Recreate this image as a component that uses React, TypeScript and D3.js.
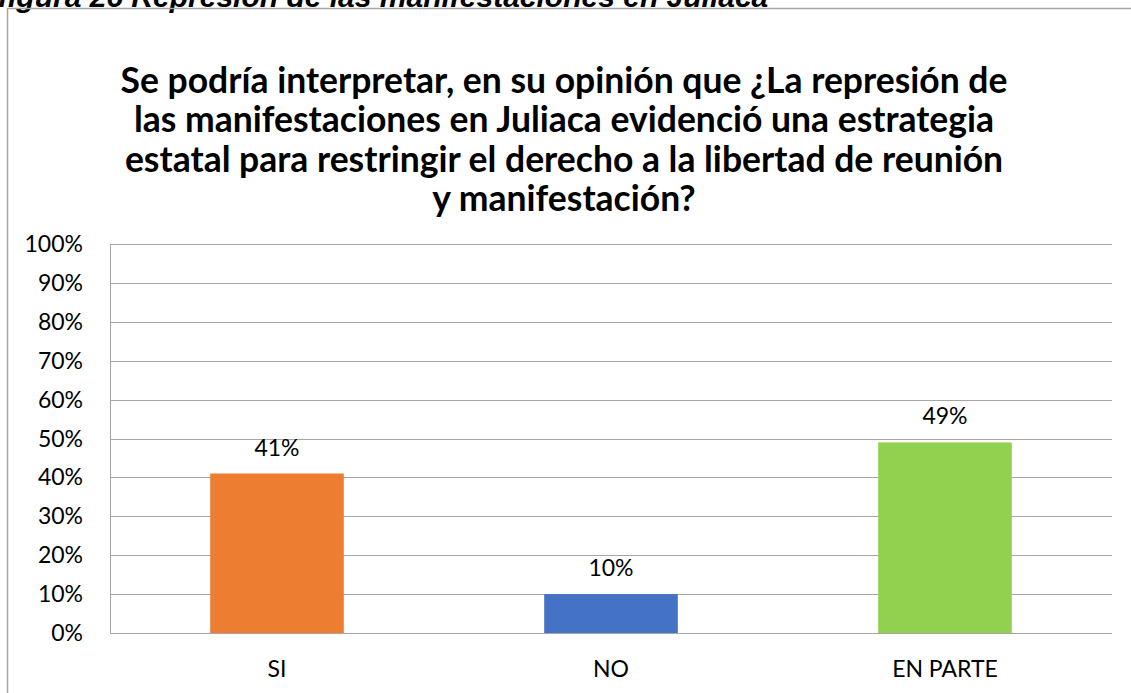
import { useEffect, useRef } from "react";
import * as d3 from "d3";

const categories = ["SI", "NO", "EN PARTE"];
const values = [0.41, 0.1, 0.49];
const barColors = ["#ED7D31", "#4472C4", "#92D050"];
const yTicks = [0, 0.1, 0.2, 0.3, 0.4, 0.5, 0.6, 0.7, 0.8, 0.9, 1];
const titleLines = [
  "Se podría interpretar, en su opinión que ¿La represión de",
  "las manifestaciones en Juliaca evidenció una estrategia",
  "estatal para restringir el derecho a la libertad de reunión",
  "y manifestación?",
];
const caption = "figura 26 Represión de las manifestaciones en Juliaca";

export default function App() {
  const ref = useRef<SVGSVGElement>(null);

  useEffect(() => {
    const el = ref.current;
    if (!el) return;
    const W = 1131, H = 693;
    const M = { top: 244, right: 19, bottom: 60, left: 110 };
    const svg = d3.select(el);
    svg.selectAll("*").remove();

    const font = "Lato, 'Open Sans', sans-serif";

    svg.append("rect").attr("width", W).attr("height", H).attr("fill", "#fff");

    // caption, cut off by the top of the page like in the source
    svg.append("text")
      .attr("x", -2).attr("y", 7)
      .attr("font-family", "'Liberation Sans', Arial, sans-serif")
      .attr("font-size", 30).attr("font-weight", "bold").attr("font-style", "italic")
      .attr("fill", "#000").text(caption);

    // chart frame
    svg.append("path")
      .attr("d", `M7.5,${H} V8.5 H${W}`)
      .attr("fill", "none").attr("stroke", "#a6a6a6").attr("stroke-width", 1.5);

    // title
    svg.append("g").selectAll("text").data(titleLines).join("text")
      .attr("x", 564).attr("y", (_, i) => 93 + i * 39.3)
      .attr("text-anchor", "middle")
      .attr("font-family", font).attr("font-size", 35.5).attr("font-weight", "bold")
      .attr("fill", "#000").text((d) => d);

    const x = d3.scaleBand<string>().domain(categories)
      .range([M.left, W - M.right]).paddingInner(0.6).paddingOuter(0.3);
    const y = d3.scaleLinear().domain([0, 1]).range([H - M.bottom, M.top]);

    // gridlines
    svg.append("g").selectAll("line").data(yTicks).join("line")
      .attr("x1", M.left).attr("x2", W - M.right)
      .attr("y1", (d) => Math.round(y(d)) + 0.5).attr("y2", (d) => Math.round(y(d)) + 0.5)
      .attr("stroke", "#a6a6a6").attr("stroke-width", 1);

    // left axis line
    svg.append("line")
      .attr("x1", M.left + 0.5).attr("x2", M.left + 0.5)
      .attr("y1", y(1)).attr("y2", y(0))
      .attr("stroke", "#a6a6a6").attr("stroke-width", 1);

    const fmt = d3.format(".0%");

    // y tick labels
    svg.append("g").selectAll("text").data(yTicks).join("text")
      .attr("x", 83).attr("y", (d) => y(d) + 8)
      .attr("text-anchor", "end")
      .attr("font-family", font).attr("font-size", 23)
      .attr("fill", "#000").text((d) => fmt(d));

    // bars
    svg.append("g").selectAll("rect").data(values).join("rect")
      .attr("x", (_, i) => x(categories[i]) ?? 0)
      .attr("width", x.bandwidth())
      .attr("y", (d) => y(d))
      .attr("height", (d) => y(0) - y(d))
      .attr("fill", (_, i) => barColors[i]);

    // data labels
    svg.append("g").selectAll("text").data(values).join("text")
      .attr("x", (_, i) => (x(categories[i]) ?? 0) + x.bandwidth() / 2)
      .attr("y", (d) => y(d) - 18)
      .attr("text-anchor", "middle")
      .attr("font-family", font).attr("font-size", 23)
      .attr("fill", "#000").text((d) => fmt(d));

    // category labels
    svg.append("g").selectAll("text").data(categories).join("text")
      .attr("x", (d) => (x(d) ?? 0) + x.bandwidth() / 2)
      .attr("y", H - M.bottom + 44)
      .attr("text-anchor", "middle")
      .attr("font-family", font).attr("font-size", 23)
      .attr("fill", "#000").text((d) => d);
  }, []);

  return (
    <svg
      ref={ref}
      width={1131}
      height={693}
      style={{ position: "absolute", left: 0, top: 0, display: "block" }}
    />
  );
}
